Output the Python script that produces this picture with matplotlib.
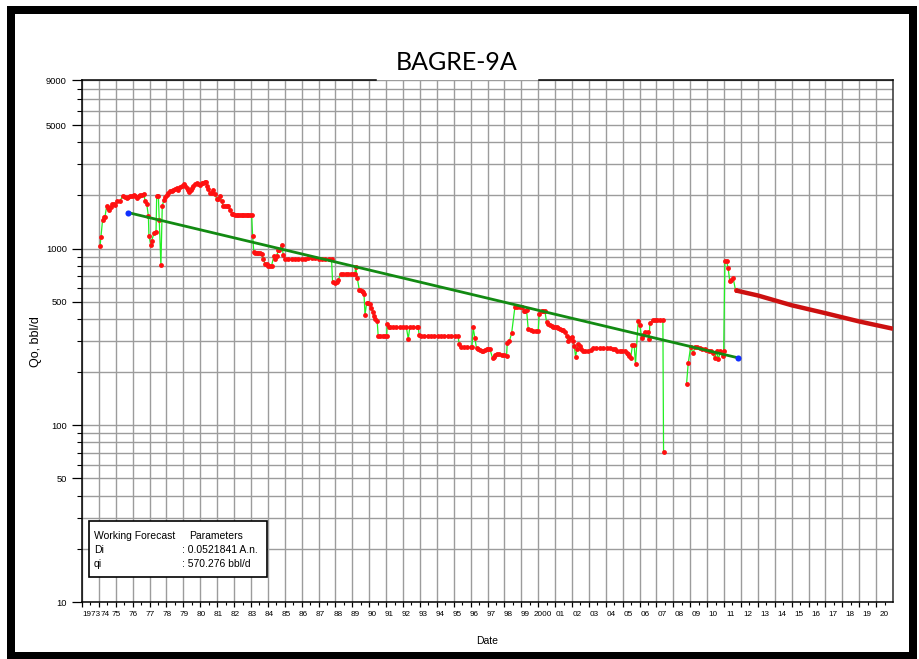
import numpy as np
import matplotlib
matplotlib.use("Agg")
import matplotlib.pyplot as plt
import matplotlib.transforms as mtransforms
from matplotlib.patches import Rectangle

W, H, DPI = 919, 659, 100

## DATA

hist_year = [
	1974.07, 1974.12, 1974.22, 1974.30, 1974.36, 1974.46, 1974.53, 1974.60, 1974.70, 1974.80,
	1974.88, 1974.95, 1975.09, 1975.25, 1975.40, 1975.52, 1975.64, 1975.74, 1975.84, 1975.96,
	1976.08, 1976.16, 1976.24, 1976.36, 1976.45, 1976.53, 1976.67, 1976.73, 1976.83, 1976.93,
	1976.96, 1977.07, 1977.12, 1977.26, 1977.38, 1977.42, 1977.52, 1977.57, 1977.67, 1977.75,
	1977.85, 1977.93, 1978.01, 1978.11, 1978.21, 1978.30, 1978.40, 1978.50, 1978.60, 1978.70,
	1978.80, 1978.90, 1979.04, 1979.12, 1979.20, 1979.28, 1979.35, 1979.45, 1979.52, 1979.59,
	1979.70, 1979.79, 1979.88, 1979.98, 1980.08, 1980.18, 1980.26, 1980.34, 1980.40, 1980.47,
	1980.57, 1980.67, 1980.77, 1980.87, 1980.97, 1981.07, 1981.17, 1981.27, 1981.36, 1981.46,
	1981.56, 1981.66, 1981.76, 1981.86, 1981.96, 1982.05, 1982.15, 1982.25, 1982.35, 1982.45,
	1982.55, 1982.64, 1982.74, 1982.84, 1982.94, 1983.04, 1983.10, 1983.17, 1983.25, 1983.34,
	1983.43, 1983.53, 1983.63, 1983.73, 1983.83, 1983.93, 1984.03, 1984.12, 1984.22, 1984.36,
	1984.45, 1984.52, 1984.62, 1984.68, 1984.82, 1984.91, 1985.01, 1985.20, 1985.40, 1985.60,
	1985.80, 1986.00, 1986.20, 1986.40, 1986.60, 1986.80, 1987.00, 1987.20, 1987.40, 1987.60,
	1987.77, 1987.83, 1987.95, 1988.07, 1988.17, 1988.31, 1988.45, 1988.60, 1988.75, 1988.90,
	1989.05, 1989.15, 1989.20, 1989.29, 1989.41, 1989.48, 1989.55, 1989.62, 1989.69, 1989.75,
	1989.85, 1989.95, 1990.04, 1990.12, 1990.20, 1990.27, 1990.34, 1990.47, 1990.53, 1990.65,
	1990.80, 1990.95, 1991.03, 1991.07, 1991.15, 1991.22, 1991.40, 1991.60, 1991.80, 1992.00,
	1992.20, 1992.31, 1992.40, 1992.60, 1992.80, 1992.90, 1992.95, 1993.05, 1993.25, 1993.45,
	1993.65, 1993.85, 1994.05, 1994.25, 1994.45, 1994.65, 1994.85, 1995.05, 1995.25, 1995.33,
	1995.41, 1995.60, 1995.80, 1996.00, 1996.08, 1996.15, 1996.25, 1996.35, 1996.45, 1996.55,
	1996.65, 1996.75, 1996.85, 1996.95, 1997.05, 1997.14, 1997.30, 1997.38, 1997.46, 1997.54,
	1997.70, 1997.85, 1998.00, 1998.13, 1998.17, 1998.30, 1998.43, 1998.62, 1998.75, 1998.90,
	1999.02, 1999.16, 1999.24, 1999.31, 1999.41, 1999.55, 1999.70, 1999.85, 2000.00, 2000.06,
	2000.20, 2000.30, 2000.40, 2000.50, 2000.60, 2000.70, 2000.79, 2000.90, 2001.00, 2001.09,
	2001.20, 2001.30, 2001.38, 2001.48, 2001.58, 2001.68, 2001.78, 2001.88, 2001.98, 2002.07,
	2002.14, 2002.21, 2002.30, 2002.37, 2002.47, 2002.56, 2002.66, 2002.80, 2002.96, 2003.10,
	2003.26, 2003.45, 2003.65, 2003.85, 2004.05, 2004.25, 2004.45, 2004.54, 2004.64, 2004.83,
	2004.98, 2005.13, 2005.23, 2005.33, 2005.40, 2005.47, 2005.58, 2005.68, 2005.76, 2005.92,
	2006.02, 2006.12, 2006.22, 2006.35, 2006.51, 2006.57, 2006.61, 2006.77, 2006.90, 2007.05,
	2007.20, 2007.38, 2007.42, np.nan, 2008.78, 2008.88, 2009.02, 2009.17, 2009.27, 2009.40,
	2009.55, 2009.70, 2009.85, 2009.96, 2010.10, 2010.20, 2010.32, 2010.46, 2010.56, 2010.66,
	2010.79, 2010.91, 2010.98, 2011.05, 2011.15, 2011.24, 2011.34, 2011.44, 2011.54, 2011.68,
]
hist_qo = [
	1030, 1165, 1460, 1500, 1513, 1740, 1700, 1648, 1720, 1800,
	1780, 1760, 1854, 1860, 1977, 1960, 1946, 1960, 1977, 1990,
	2023, 1980, 1940, 1990, 2010, 2023, 2050, 1854, 1800, 1524,
	1185, 1054, 1100, 1228, 1236, 1977, 1977, 1460, 804, 1740,
	1890, 1950, 2023, 2070, 2113, 2130, 2160, 2180, 2207, 2150,
	2230, 2250, 2336, 2270, 2207, 2140, 2085, 2150, 2200, 2250,
	2320, 2357, 2330, 2300, 2340, 2357, 2370, 2380, 2250, 2180,
	2070, 2060, 2160, 2050, 1905, 1900, 1977, 1850, 1740, 1740,
	1740, 1740, 1660, 1578, 1560, 1558, 1550, 1550, 1550, 1550,
	1550, 1550, 1540, 1550, 1550, 1550, 1175, 953, 950, 950,
	948, 940, 930, 875, 820, 822, 800, 800, 800, 913,
	875, 904, 986, 980, 1054, 925, 875, 870, 872, 875,
	875, 878, 878, 880, 880, 880, 878, 878, 878, 875,
	870, 644, 640, 644, 667, 721, 721, 721, 721, 721,
	721, 721, 788, 682, 586, 580, 578, 565, 556, 423,
	492, 490, 488, 460, 438, 415, 401, 391, 321, 321,
	321, 321, 321, 376, 362, 358, 358, 358, 358, 358,
	358, 308, 358, 358, 358, 358, 326, 321, 321, 321,
	321, 321, 321, 321, 321, 321, 321, 321, 321, 288,
	276, 276, 276, 276, 276, 358, 312, 273, 270, 268,
	265, 262, 268, 270, 270, 270, 240, 245, 250, 254,
	252, 250, 250, 248, 294, 300, 333, 465, 465, 465,
	465, 441, 445, 451, 351, 345, 342, 340, 340, 428,
	441, 441, 441, 382, 375, 370, 366, 362, 360, 358,
	355, 350, 348, 345, 338, 320, 299, 310, 318, 299,
	280, 245, 270, 288, 280, 270, 262, 263, 264, 268,
	273, 273, 273, 273, 273, 273, 272, 270, 264, 262,
	262, 262, 258, 254, 248, 240, 283, 283, 222, 391,
	368, 312, 326, 338, 338, 308, 380, 393, 393, 393,
	393, 393, 71, np.nan, 171, 225, 276, 256, 276, 276,
	275, 272, 270, 268, 265, 262, 256, 240, 262, 237,
	262, 248, 262, 855, 850, 778, 653, 667, 682, 580,
]

fit_year = [1975.72, 2011.82]
fit_qo = [1600, 241]

fc_year = [2011.68, 2013.0, 2015.0, 2017.0, 2019.0, 2021.0]
fc_qo = [580, 543, 478, 431, 387, 352]

years = list(range(1973, 2021))
year_labels = ["1973"] + ["2000" if y == 2000 else f"{y % 100:02d}" for y in years[1:]]

y_major = [10, 50, 100, 500, 1000, 5000, 9000]
y_minor = [20, 30, 40, 60, 70, 80, 90, 200, 300, 400, 600, 700, 800, 900,
	2000, 3000, 4000, 6000, 7000, 8000]

legend_rows = [
	("Working Forecast", "Parameters"),
	("Di", ": 0.0521841 A.n."),
	("qi", ": 570.276 bbl/d"),
]

## HELPERS

def fx(px):
	return px / W

def fy(py):
	return 1 - py / H

def pt(px):
	return px * 72 / DPI

def shift(fig, px):
	return mtransforms.ScaledTranslation(px / DPI, 0, fig.dpi_scale_trans)

## PLOT

fig = plt.figure(figsize = (W / DPI, H / DPI), dpi = DPI)
ax = fig.add_axes([fx(82), fy(602), fx(893) - fx(82), fy(80) - fy(602)])

ax.set_yscale("log")
ax.set_xlim(1973, 2021)
ax.set_ylim(10, 9000)

ax.plot(hist_year, hist_qo, "-", color = "#22ee22", lw = 0.9, zorder = 3)
ax.plot(hist_year, hist_qo, "o", color = "#ff1010", ms = 3.5, mew = 0, zorder = 4)
ax.plot(fc_year, fc_qo, "-", color = "#cc1010", lw = 3.2, solid_capstyle = "butt", zorder = 4)
ax.plot(fit_year, fit_qo, "-", color = "#128a12", lw = 2.0, zorder = 5)
ax.plot(fit_year, fit_qo, "o", color = "#1030ff", ms = 4.4, mew = 0, zorder = 6)

# ticks and grid
ax.set_xticks(years)
ax.set_xticklabels(year_labels)
ax.set_xticks([y + 0.5 for y in years], minor = True)
ax.set_yticks(y_major)
ax.set_yticklabels([str(v) for v in y_major])
ax.set_yticks(y_minor, minor = True)
ax.yaxis.set_minor_formatter(plt.NullFormatter())

ax.grid(axis = "x", which = "major", color = "#9c9c9c", lw = 1.0)
ax.grid(axis = "y", which = "both", color = "#9c9c9c", lw = 1.0)
ax.set_axisbelow(True)

ax.tick_params(axis = "x", which = "major", length = pt(5), width = 0.9, pad = pt(3.5), labelsize = 5.9)
ax.tick_params(axis = "x", which = "minor", length = pt(3), width = 0.8)
ax.tick_params(axis = "y", which = "major", length = pt(10), width = 0.9, pad = pt(5), labelsize = 6.7)
ax.tick_params(axis = "y", which = "minor", length = pt(5), width = 0.8)
for lab in ax.get_xticklabels() + ax.get_yticklabels():
	lab.set_family("Liberation Sans")

# the year labels drift a little to the right in the original
xl = ax.get_xticklabels()
xl[0].set_horizontalalignment("left")
xl[1].set_transform(xl[1].get_transform() + shift(fig, 6))
for yr, lab in zip(years[2:], xl[2:]):
	lab.set_transform(lab.get_transform() + shift(fig, (yr - 1975) * 0.18))

for side in ["left", "bottom", "right"]:
	ax.spines[side].set_linewidth(1.1)
	ax.spines[side].set_color("black")
ax.spines["right"].set_color("#303030")
ax.spines["top"].set_visible(False)
gap_a = (376 - 82) / 811
gap_b = (539 - 82) / 811
for a, b in [(0, gap_a), (gap_b, 1)]:
	ax.plot([a, b], [1, 1], color = "black", lw = 1.1, transform = ax.transAxes, clip_on = False, zorder = 7)

# labels
fig.text(fx(457), fy(62), "BAGRE-9A", ha = "center", va = "center", fontsize = 18, family = "Lato")
fig.text(fx(36), fy(342), "Qo, bbl/d", ha = "center", va = "center", rotation = 90,
	fontsize = 9.0, family = "Liberation Sans")
fig.text(fx(487), fy(641), "Date", ha = "center", va = "center", fontsize = 7.5, family = "Liberation Sans")

# parameter box
box = Rectangle((fx(88.7), fy(577)), fx(266.7) - fx(88.7), fy(520.7) - fy(577),
	transform = fig.transFigure, facecolor = "white", edgecolor = "black", lw = 1.2, zorder = 10)
fig.add_artist(box)
row_y = [536, 550, 564]
col_x = [(94, 189), (94, 182), (94, 182)]
for (left, right), yy, (x0, x1) in zip(legend_rows, row_y, col_x):
	fig.text(fx(x0), fy(yy), left, ha = "left", va = "center", fontsize = 7.5,
		family = "Liberation Sans", zorder = 11)
	fig.text(fx(x1), fy(yy), right, ha = "left", va = "center", fontsize = 7.5,
		family = "Liberation Sans", zorder = 11)

# outer frame
frame = Rectangle((fx(11), fy(656)), fx(913) - fx(11), fy(9.5) - fy(656),
	transform = fig.transFigure, fill = False, edgecolor = "black", lw = pt(8), zorder = 12)
fig.add_artist(frame)

fig.savefig("out.png", dpi = DPI)
